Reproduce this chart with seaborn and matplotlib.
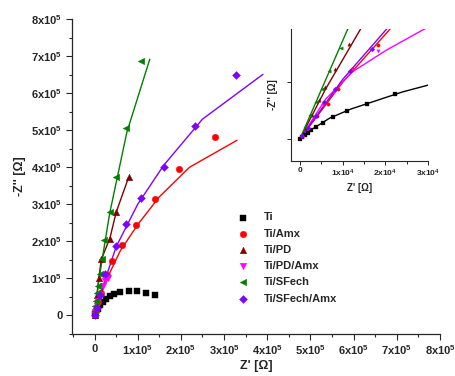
import matplotlib
matplotlib.use("Agg")
import matplotlib.pyplot as plt
import seaborn as sns
import numpy as np
import pandas as pd
from matplotlib.ticker import FuncFormatter, MultipleLocator

# ---------------- data (main plot, ohm) ----------------
labels = ["Ti", "Ti/Amx", "Ti/PD", "Ti/PD/Amx", "Ti/SFech", "Ti/SFech/Amx"]
colors = ["#000000", "#ff0000", "#800000", "#ff00ff", "#008000", "#8000ff"]
markers = ["s", "o", "^", "v", "<", "D"]

ti_x = [0.02, 0.08, 0.13, 0.19, 0.27, 0.35, 0.45, 0.60, 0.80, 0.99, 1.20, 1.39]
ti_y = [0.03, 0.16, 0.27, 0.37, 0.45, 0.52, 0.59, 0.63, 0.65, 0.65, 0.61, 0.55]
amx_x = [0.0, 0.03, 0.08, 0.15, 0.285, 0.41, 0.64, 0.97, 1.39, 1.96, 2.80]
amx_y = [0.0, 0.12, 0.35, 0.60, 1.10, 1.46, 1.89, 2.43, 3.15, 3.94, 4.82]
pd_x = [0.0, 0.02, 0.05, 0.10, 0.155, 0.36, 0.50, 0.79]
pd_y = [0.0, 0.20, 0.55, 1.00, 1.53, 2.07, 2.78, 3.73]
pdamx_x = [0.0, 0.02, 0.05, 0.09, 0.13, 0.19, 0.25, 0.31]
pdamx_y = [0.0, 0.10, 0.25, 0.40, 0.55, 0.79, 0.92, 1.02]
sf_x = [0.0, 0.01, 0.02, 0.03, 0.05, 0.08, 0.12, 0.18, 0.23, 0.35, 0.50, 0.735, 1.07]
sf_y = [0.03, 0.12, 0.25, 0.40, 0.60, 0.79, 1.13, 1.51, 2.03, 2.78, 3.75, 5.07, 6.87]
sfamx_x = [0.0, 0.05, 0.12, 0.25, 0.50, 0.735, 1.08, 1.62, 2.32, 3.27]
sfamx_y = [0.0, 0.20, 0.55, 1.13, 1.87, 2.47, 3.16, 4.02, 5.12, 6.50]

# fitted curves (main)
amx_fx = [0.0, 0.25, 0.60, 1.00, 1.50, 2.20, 3.30]
amx_fy = [0.0, 0.90, 1.75, 2.45, 3.20, 4.00, 4.73]
pd_fx = [0.0, 0.10, 0.155, 0.36, 0.50, 0.79]
pd_fy = [0.0, 1.00, 1.50, 2.10, 2.78, 3.73]
pdamx_fx = [0.0, 0.10, 0.20, 0.33]
pdamx_fy = [0.0, 0.45, 0.78, 1.05]
sf_fx = [0.0, 0.10, 0.35, 0.75, 1.28]
sf_fy = [0.0, 0.95, 2.75, 4.95, 6.92]
sfamx_fx = [0.0, 0.20, 0.50, 1.00, 1.60, 2.50, 3.90]
sfamx_fy = [0.0, 0.80, 1.85, 3.00, 4.05, 5.30, 6.51]

# ---------------- data (inset, x in 1e4 ohm, y in 5e4 ohm) ----------------
in_ti_x = [0.01, 0.06, 0.12, 0.18, 0.26, 0.38, 0.53, 0.77, 1.09, 1.56, 2.23]
in_ti_y = [0.0, 0.03, 0.07, 0.11, 0.16, 0.22, 0.29, 0.39, 0.49, 0.62, 0.79]
in_ti_fx = [0.0, 0.3, 0.7, 1.2, 1.8, 2.4, 3.0]
in_ti_fy = [0.0, 0.18, 0.37, 0.53, 0.68, 0.83, 0.95]
in_amx_x = [0.05, 0.2, 0.4, 0.65, 0.9, 1.22, 1.82]
in_amx_y = [0.05, 0.2, 0.4, 0.62, 0.88, 1.23, 1.65]
in_amx_fx = [0.0, 1.0, 2.11]
in_amx_fy = [0.0, 1.0, 1.94]
in_pd_x = [0.05, 0.15, 0.28, 0.44, 0.59, 0.83, 1.14]
in_pd_y = [0.06, 0.2, 0.42, 0.68, 0.91, 1.23, 1.67]
in_pd_fx = [0.0, 0.6, 1.42]
in_pd_fy = [0.0, 0.88, 1.94]
in_pdamx_x = [0.05, 0.18, 0.35, 0.55, 0.8, 1.23, 1.82]
in_pdamx_y = [0.05, 0.2, 0.38, 0.6, 0.82, 1.22, 1.56]
in_pdamx_fx = [0.0, 0.6, 1.24, 2.03, 2.94]
in_pdamx_fy = [0.0, 0.7, 1.19, 1.57, 1.95]
in_sf_x = [0.03, 0.13, 0.24, 0.38, 0.52, 0.69, 0.95]
in_sf_y = [0.05, 0.21, 0.42, 0.66, 0.89, 1.20, 1.61]
in_sf_fx = [0.0, 1.12]
in_sf_fy = [0.0, 1.94]
in_sfamx_x = [0.05, 0.2, 0.38, 0.57, 0.81, 1.18, 1.69]
in_sfamx_y = [0.05, 0.2, 0.4, 0.66, 0.88, 1.19, 1.58]
in_sfamx_fx = [0.0, 1.0, 2.03]
in_sfamx_fy = [0.0, 1.05, 1.94]

# ---------------- style ----------------
sns.set_style("ticks")
plt.rcParams["font.family"] = ["Liberation Sans", "DejaVu Sans"]
plt.rcParams["font.weight"] = "bold"
plt.rcParams["mathtext.fontset"] = "custom"
plt.rcParams["mathtext.rm"] = "Liberation Sans:bold"
plt.rcParams["mathtext.it"] = "Liberation Sans:bold"
plt.rcParams["mathtext.bf"] = "Liberation Sans:bold"
plt.rcParams["mathtext.default"] = "rm"

fig = plt.figure(figsize=(4.56, 3.76), dpi=100)
ax = fig.add_axes([0.158, 0.112, 0.807, 0.837])

main_pts = [(ti_x, ti_y), (amx_x, amx_y), (pd_x, pd_y), (pdamx_x, pdamx_y), (sf_x, sf_y), (sfamx_x, sfamx_y)]
main_fits = [None, (amx_fx, amx_fy), (pd_fx, pd_fy), (pdamx_fx, pdamx_fy), (sf_fx, sf_fy), (sfamx_fx, sfamx_fy)]

E5 = 1e5
for lab, col, mk, pts, fit in zip(labels, colors, markers, main_pts, main_fits):
    if fit is not None:
        dfl = pd.DataFrame({"x": np.array(fit[0]) * E5, "y": np.array(fit[1]) * E5})
        sns.lineplot(data=dfl, x="x", y="y", sort=False, color=col, lw=1.0, ax=ax, legend=False)
for lab, col, mk, pts in zip(labels, colors, markers, main_pts):
    dfp = pd.DataFrame({"x": np.array(pts[0]) * E5, "y": np.array(pts[1]) * E5})
    s = 16 if mk == "D" else 22
    sns.scatterplot(data=dfp, x="x", y="y", color=col, marker=mk, s=s, edgecolor=col,
                    linewidth=0.3, ax=ax, label=lab, zorder=3)

ax.set_xlim(-0.52e5, 8e5)
ax.set_ylim(-0.5e5, 8e5)

def fmt(v, pos, exp=5):
    n = int(round(v / 10**exp))
    if n == 0:
        return "0"
    return r"$%dx10^{%d}$" % (n, exp)

ax.xaxis.set_major_locator(MultipleLocator(1e5))
ax.yaxis.set_major_locator(MultipleLocator(1e5))
ax.xaxis.set_minor_locator(MultipleLocator(0.5e5))
ax.yaxis.set_minor_locator(MultipleLocator(0.5e5))
ax.xaxis.set_major_formatter(FuncFormatter(lambda v, p: fmt(v, p, 5)))
ax.yaxis.set_major_formatter(FuncFormatter(lambda v, p: fmt(v, p, 5)))
ax.tick_params(which="major", length=4, width=0.8, labelsize=8, pad=3)
ax.tick_params(which="minor", length=2.5, width=0.8)
sns.despine(ax=ax)
for sp in ax.spines.values():
    sp.set_linewidth(0.9)
ax.set_xlabel("Z' [Ω]", fontsize=9, fontweight="bold", labelpad=2)
ax.set_ylabel("-Z'' [Ω]", fontsize=9, fontweight="bold", labelpad=4)

leg = ax.legend(loc="upper left", bbox_to_anchor=(0.422, 0.40), frameon=False,
                fontsize=8, handletextpad=0.9, labelspacing=0.56, borderaxespad=0,
                markerscale=1.0)
for t in leg.get_texts():
    t.set_fontweight("bold")

# ---------------- inset ----------------
ins = fig.add_axes([0.638, 0.573, 0.301, 0.350])
in_pts = [(in_ti_x, in_ti_y), (in_amx_x, in_amx_y), (in_pd_x, in_pd_y), (in_pdamx_x, in_pdamx_y),
          (in_sf_x, in_sf_y), (in_sfamx_x, in_sfamx_y)]
in_fits = [(in_ti_fx, in_ti_fy), (in_amx_fx, in_amx_fy), (in_pd_fx, in_pd_fy), (in_pdamx_fx, in_pdamx_fy),
           (in_sf_fx, in_sf_fy), (in_sfamx_fx, in_sfamx_fy)]
E4 = 1e4
T = 5e4
for col, mk, pts, fit in zip(colors, markers, in_pts, in_fits):
    dfl = pd.DataFrame({"x": np.array(fit[0]) * E4, "y": np.array(fit[1]) * T})
    sns.lineplot(data=dfl, x="x", y="y", sort=False, color=col, lw=1.0, ax=ins, legend=False)
    dfp = pd.DataFrame({"x": np.array(pts[0]) * E4, "y": np.array(pts[1]) * T})
    sns.scatterplot(data=dfp, x="x", y="y", color=col, marker=mk, s=6, edgecolor=col,
                    linewidth=0.2, ax=ins, legend=False, zorder=3)
ins.set_xlim(-0.21e4, 3e4)
ins.set_ylim(-0.38 * T, 1.94 * T)
ins.xaxis.set_major_locator(MultipleLocator(1e4))
ins.xaxis.set_minor_locator(MultipleLocator(0.5e4))
ins.yaxis.set_major_locator(MultipleLocator(T))
ins.xaxis.set_major_formatter(FuncFormatter(lambda v, p: fmt(v, p, 4)))
ins.yaxis.set_major_formatter(FuncFormatter(lambda v, p: ""))
ins.tick_params(which="major", length=3, width=0.7, labelsize=6, pad=2)
ins.tick_params(which="minor", length=1.8, width=0.7)
sns.despine(ax=ins)
for sp in ins.spines.values():
    sp.set_linewidth(0.8)
ins.set_xlabel("Z' [Ω]", fontsize=7, fontweight="bold", labelpad=3)
ins.set_ylabel("-Z'' [Ω]", fontsize=7, fontweight="bold", labelpad=4)

fig.savefig("out.png", dpi=100)
